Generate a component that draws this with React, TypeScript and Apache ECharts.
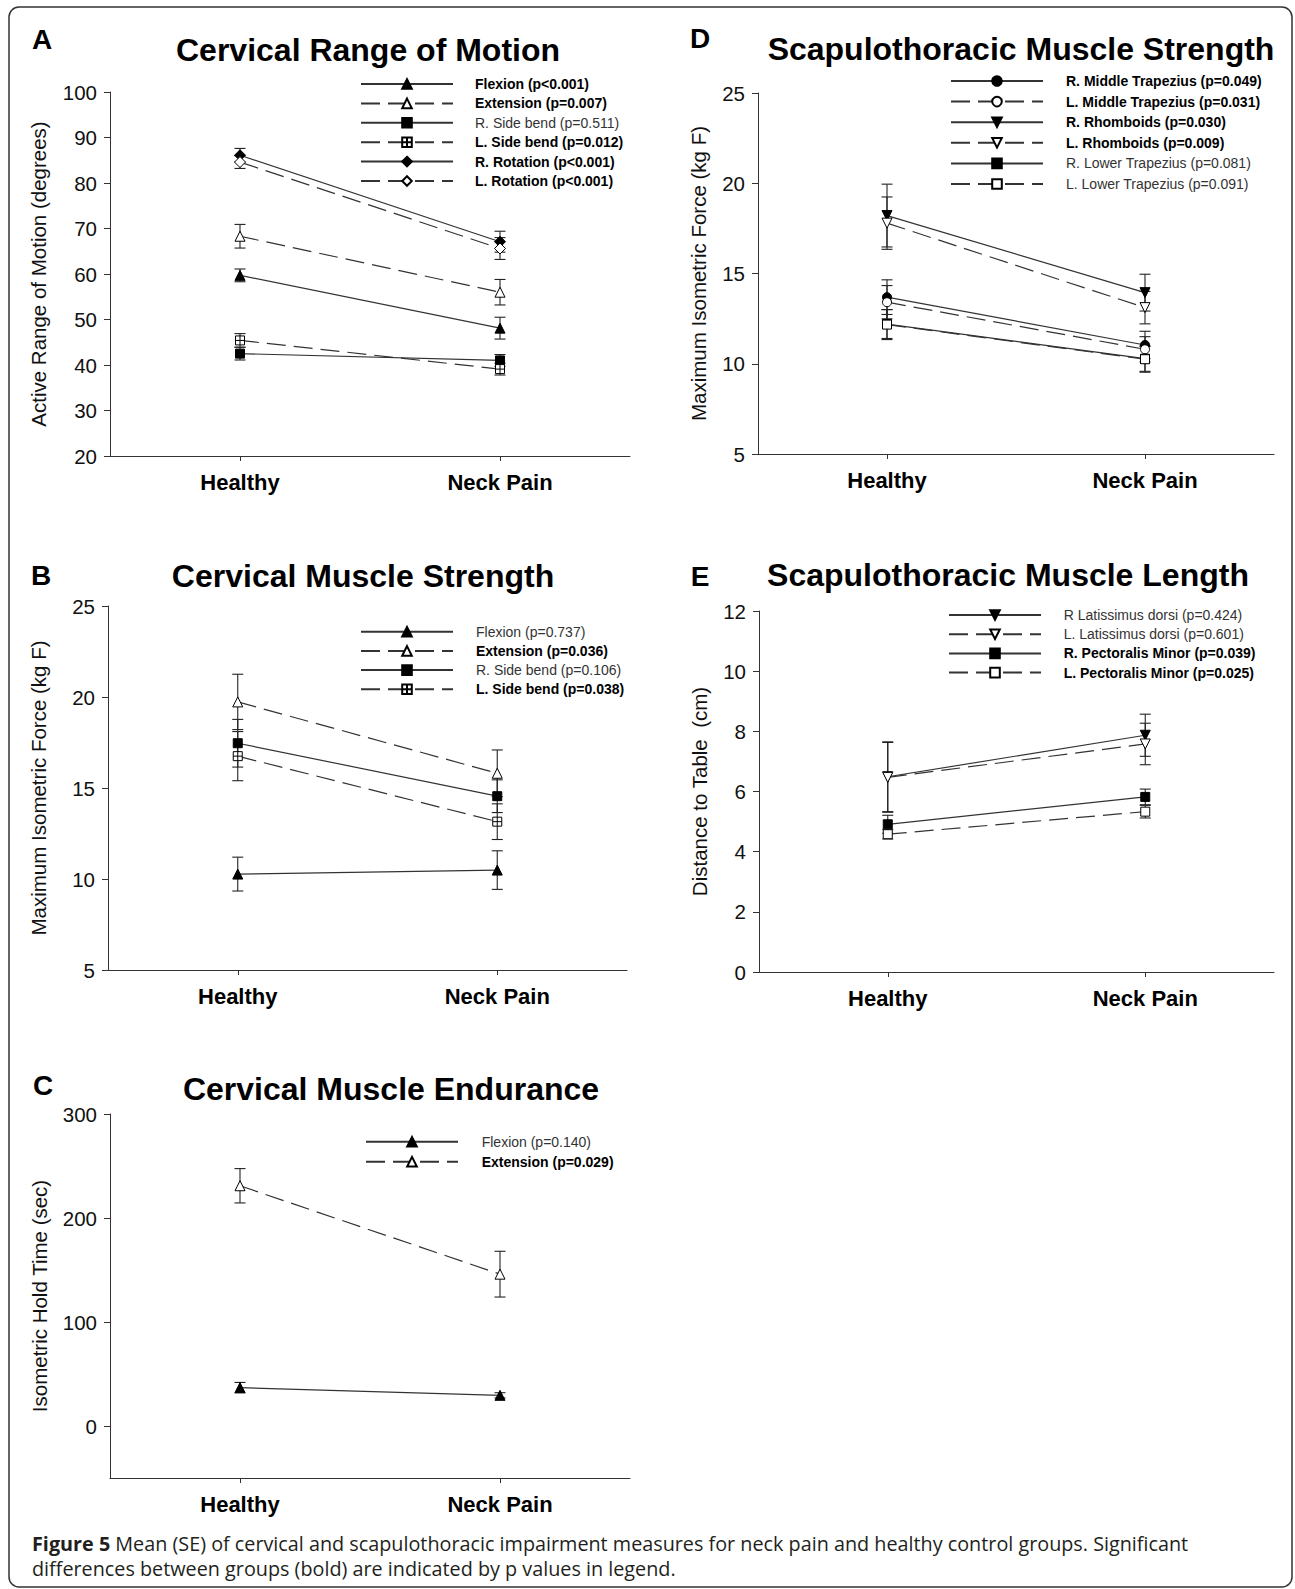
import React, { useEffect, useRef } from "react";
import * as echarts from "echarts";

// ---------- data ----------
const categories = ["Healthy", "Neck Pain"];

// Panel A: Cervical Range of Motion (degrees)
const aFlexionMean = [59.7, 48.1];
const aFlexionSE = [1.4, 2.4];
const aExtensionMean = [68.3, 56.0];
const aExtensionSE = [2.6, 2.8];
const aRSideMean = [42.5, 41.0];
const aRSideSE = [1.4, 1.3];
const aLSideMean = [45.4, 39.1];
const aLSideSE = [1.5, 1.3];
const aRRotMean = [86.1, 67.1];
const aRRotSE = [1.5, 2.3];
const aLRotMean = [84.6, 65.6];
const aLRotSE = [1.4, 2.4];

// Panel B: Cervical Muscle Strength (kg F)
const bFlexionMean = [10.27, 10.49];
const bFlexionSE = [0.93, 1.06];
const bExtensionMean = [19.73, 15.81];
const bExtensionSE = [1.52, 1.28];
const bRSideMean = [17.46, 14.55];
const bRSideSE = [1.31, 0.9];
const bLSideMean = [16.75, 13.15];
const bLSideSE = [1.35, 0.98];

// Panel C: Cervical Muscle Endurance (sec)
const cFlexionMean = [36.9, 29.5];
const cFlexionSE = [5.0, 2.5];
const cExtensionMean = [231, 146];
const cExtensionSE = [16.5, 22];

// Panel D: Scapulothoracic Muscle Strength (kg F)
const dRMidTrapMean = [13.69, 11.04];
const dRMidTrapSE = [0.96, 0.76];
const dLMidTrapMean = [13.41, 10.8];
const dLMidTrapSE = [0.92, 0.7];
const dRRhomMean = [18.21, 13.94];
const dRRhomSE = [1.74, 1.02];
const dLRhomMean = [17.79, 13.11];
const dLRhomSE = [1.45, 0.9];
const dRLowTrapMean = [12.2, 10.28];
const dRLowTrapSE = [0.8, 0.7];
const dLLowTrapMean = [12.17, 10.25];
const dLLowTrapSE = [0.83, 0.72];

// Panel E: Scapulothoracic Muscle Length (cm)
const eRLatMean = [6.49, 7.87];
const eRLatSE = [1.16, 0.7];
const eLLatMean = [6.47, 7.58];
const eLLatSE = [1.16, 0.69];
const eRPecMean = [4.91, 5.82];
const eRPecSE = [0.3, 0.26];
const eLPecMean = [4.58, 5.33];
const eLPecSE = [0.16, 0.21];

// Tick values for panel C
const cTickValues = [0, 100, 200, 300];

// ---------- styling helpers ----------
const FONT = "Liberation Sans, Arial, Helvetica, sans-serif";
const CAP_FONT = "Open Sans, Noto Sans, sans-serif";
const SYM = {
  triUp: "triangle",
  triDown: "path://M0,0L10,0L5,10Z",
  square: "rect",
  plusSquare: "path://M0,0L10,0L10,10L0,10Z M5,0L5,10 M0,5L10,5",
  diamond: "diamond",
  circle: "circle",
};

type SeriesDef = {
  name: string;
  mean: number[];
  se: number[];
  symbol: string;
  size: number;
  filled: boolean;
  dashed: boolean;
  bold: boolean;
};

type PanelDef = {
  letter: string;
  letterPos: [number, number];
  title: string;
  titlePos: [number, number];
  grid: { left: number; top: number; width: number; height: number };
  yMin: number;
  yMax: number;
  yInterval?: number;
  yCustom?: number[];
  yName: string;
  nameGap: number;
  legend: { left: number; top: number; gap: number; pad: number };
  series: SeriesDef[];
};

const panels: PanelDef[] = [
  {
    letter: "A",
    letterPos: [42, 39],
    title: "Cervical Range of Motion",
    titlePos: [368, 50],
    grid: { left: 110, top: 92, width: 520, height: 364 },
    yMin: 20,
    yMax: 100,
    yInterval: 10,
    yName: "Active Range of Motion (degrees)",
    nameGap: 61,
    legend: { left: 360, top: 77, gap: 5.4, pad: 17 },
    series: [
      { name: "Flexion (p<0.001)", mean: aFlexionMean, se: aFlexionSE, symbol: SYM.triUp, size: 10, filled: true, dashed: false, bold: true },
      { name: "Extension (p=0.007)", mean: aExtensionMean, se: aExtensionSE, symbol: SYM.triUp, size: 10, filled: false, dashed: true, bold: true },
      { name: "R. Side bend (p=0.511)", mean: aRSideMean, se: aRSideSE, symbol: SYM.square, size: 9, filled: true, dashed: false, bold: false },
      { name: "L. Side bend (p=0.012)", mean: aLSideMean, se: aLSideSE, symbol: SYM.plusSquare, size: 9, filled: false, dashed: true, bold: true },
      { name: "R. Rotation (p<0.001)", mean: aRRotMean, se: aRRotSE, symbol: SYM.diamond, size: 11, filled: true, dashed: false, bold: true },
      { name: "L. Rotation (p<0.001)", mean: aLRotMean, se: aLRotSE, symbol: SYM.diamond, size: 11, filled: false, dashed: true, bold: true },
    ],
  },
  {
    letter: "B",
    letterPos: [41, 575],
    title: "Cervical Muscle Strength",
    titlePos: [363, 576],
    grid: { left: 108, top: 606, width: 519, height: 364 },
    yMin: 5,
    yMax: 25,
    yInterval: 5,
    yName: "Maximum Isometric Force (kg F)",
    nameGap: 59,
    legend: { left: 360, top: 624.7, gap: 5.2, pad: 18 },
    series: [
      { name: "Flexion (p=0.737)", mean: bFlexionMean, se: bFlexionSE, symbol: SYM.triUp, size: 10, filled: true, dashed: false, bold: false },
      { name: "Extension (p=0.036)", mean: bExtensionMean, se: bExtensionSE, symbol: SYM.triUp, size: 10, filled: false, dashed: true, bold: true },
      { name: "R. Side bend (p=0.106)", mean: bRSideMean, se: bRSideSE, symbol: SYM.square, size: 9, filled: true, dashed: false, bold: false },
      { name: "L. Side bend (p=0.038)", mean: bLSideMean, se: bLSideSE, symbol: SYM.plusSquare, size: 9, filled: false, dashed: true, bold: true },
    ],
  },
  {
    letter: "C",
    letterPos: [43, 1085],
    title: "Cervical Muscle Endurance",
    titlePos: [391, 1089],
    grid: { left: 110, top: 1114, width: 520, height: 364 },
    yMin: -50,
    yMax: 300,
    yCustom: cTickValues,
    yName: "Isometric Hold Time (sec)",
    nameGap: 60,
    legend: { left: 365, top: 1134.7, gap: 6, pad: 18.7 },
    series: [
      { name: "Flexion (p=0.140)", mean: cFlexionMean, se: cFlexionSE, symbol: SYM.triUp, size: 10, filled: true, dashed: false, bold: false },
      { name: "Extension (p=0.029)", mean: cExtensionMean, se: cExtensionSE, symbol: SYM.triUp, size: 10, filled: false, dashed: true, bold: true },
    ],
  },
  {
    letter: "D",
    letterPos: [700, 38],
    title: "Scapulothoracic Muscle Strength",
    titlePos: [1021, 49],
    grid: { left: 758, top: 93, width: 516, height: 361 },
    yMin: 5,
    yMax: 25,
    yInterval: 5,
    yName: "Maximum Isometric Force (kg F)",
    nameGap: 49,
    legend: { left: 950, top: 74, gap: 6.6, pad: 18 },
    series: [
      { name: "R. Middle Trapezius (p=0.049)", mean: dRMidTrapMean, se: dRMidTrapSE, symbol: SYM.circle, size: 9, filled: true, dashed: false, bold: true },
      { name: "L. Middle Trapezius (p=0.031)", mean: dLMidTrapMean, se: dLMidTrapSE, symbol: SYM.circle, size: 9, filled: false, dashed: true, bold: true },
      { name: "R. Rhomboids (p=0.030)", mean: dRRhomMean, se: dRRhomSE, symbol: SYM.triDown, size: 10, filled: true, dashed: false, bold: true },
      { name: "L. Rhomboids (p=0.009)", mean: dLRhomMean, se: dLRhomSE, symbol: SYM.triDown, size: 10, filled: false, dashed: true, bold: true },
      { name: "R. Lower Trapezius (p=0.081)", mean: dRLowTrapMean, se: dRLowTrapSE, symbol: SYM.square, size: 9, filled: true, dashed: false, bold: false },
      { name: "L. Lower Trapezius (p=0.091)", mean: dLLowTrapMean, se: dLLowTrapSE, symbol: SYM.square, size: 9, filled: false, dashed: true, bold: false },
    ],
  },
  {
    letter: "E",
    letterPos: [700, 576],
    title: "Scapulothoracic Muscle Length",
    titlePos: [1008, 575],
    grid: { left: 759, top: 611, width: 515, height: 361 },
    yMin: 0,
    yMax: 12,
    yInterval: 2,
    yName: "Distance to Table  (cm)",
    nameGap: 49,
    legend: { left: 948, top: 608, gap: 5.2, pad: 17.7 },
    series: [
      { name: "R Latissimus dorsi (p=0.424)", mean: eRLatMean, se: eRLatSE, symbol: SYM.triDown, size: 10, filled: true, dashed: false, bold: false },
      { name: "L. Latissimus dorsi (p=0.601)", mean: eLLatMean, se: eLLatSE, symbol: SYM.triDown, size: 10, filled: false, dashed: true, bold: false },
      { name: "R. Pectoralis Minor (p=0.039)", mean: eRPecMean, se: eRPecSE, symbol: SYM.square, size: 9, filled: true, dashed: false, bold: true },
      { name: "L. Pectoralis Minor (p=0.025)", mean: eLPecMean, se: eLPecSE, symbol: SYM.square, size: 9, filled: false, dashed: true, bold: true },
    ],
  },
];

const LINE_COLOR = "#333";
const DASH = [19, 8];

const errRender = (params: any, api: any) => {
  const x = api.value(0);
  const lo = api.coord([x, api.value(1)]);
  const hi = api.coord([x, api.value(2)]);
  const w = 5.5;
  const st = { stroke: "#222", lineWidth: 1.1 };
  return {
    type: "group",
    children: [
      { type: "line", shape: { x1: lo[0], y1: lo[1], x2: hi[0], y2: hi[1] }, style: st },
      { type: "line", shape: { x1: lo[0] - w, y1: lo[1], x2: lo[0] + w, y2: lo[1] }, style: st },
      { type: "line", shape: { x1: hi[0] - w, y1: hi[1], x2: hi[0] + w, y2: hi[1] }, style: st },
    ],
  };
};

function buildOption() {
  const grid: any[] = [];
  const xAxis: any[] = [];
  const yAxis: any[] = [];
  const legend: any[] = [];
  const series: any[] = [];
  const graphic: any[] = [];

  graphic.push({
    type: "rect",
    silent: true,
    z: -10,
    shape: { x: 9, y: 7, width: 1283, height: 1580, r: 10 },
    style: { fill: "none", stroke: "#333", lineWidth: 1.5 },
  });

  panels.forEach((p, i) => {
    grid.push({ ...p.grid, containLabel: false });
    xAxis.push({
      type: "category",
      gridIndex: i,
      data: categories,
      boundaryGap: true,
      axisLine: { show: true, onZero: false, lineStyle: { color: LINE_COLOR, width: 1 } },
      axisTick: { show: true, alignWithLabel: true, length: 5, lineStyle: { color: LINE_COLOR } },
      axisLabel: { fontFamily: FONT, fontSize: 22, fontWeight: "bold", color: "#000", margin: 15 },
      splitLine: { show: false },
    });
    const yA: any = {
      type: "value",
      gridIndex: i,
      min: p.yMin,
      max: p.yMax,
      name: p.yName,
      nameLocation: "middle",
      nameRotate: 90,
      nameGap: p.nameGap,
      nameTextStyle: { fontFamily: FONT, fontSize: 20.5, color: "#111" },
      axisLine: { show: true, lineStyle: { color: LINE_COLOR, width: 1 } },
      axisTick: { show: true, inside: false, length: 6, lineStyle: { color: LINE_COLOR } },
      axisLabel: { fontFamily: FONT, fontSize: 20.5, color: "#111", margin: 13 },
      splitLine: { show: false },
    };
    if (p.yInterval !== undefined) yA.interval = p.yInterval;
    if (p.yCustom) {
      yA.axisLabel.customValues = p.yCustom;
      yA.axisTick.customValues = p.yCustom;
    }
    yAxis.push(yA);

    legend.push({
      orient: "vertical",
      left: p.legend.left,
      top: p.legend.top,
      padding: 0,
      itemWidth: 92,
      itemHeight: 12,
      itemGap: p.legend.gap,
      selectedMode: false,
      textStyle: { fontFamily: FONT, fontSize: 14, lineHeight: 14, color: "#222", padding: [0, 0, 0, p.legend.pad] },
      data: p.series.map((s) => ({
        name: s.name,
        textStyle: { fontWeight: s.bold ? "bold" : "normal", color: s.bold ? "#000" : "#333" },
      })),
    });

    p.series.forEach((s, k) => {
      series.push({
        type: "custom",
        name: `__se_${p.letter}_${k}`,
        xAxisIndex: i,
        yAxisIndex: i,
        silent: true,
        z: 2,
        encode: { x: 0, y: [1, 2] },
        renderItem: errRender,
        data: s.mean.map((m, j) => [j, m - s.se[j], m + s.se[j]]),
      });
    });
    p.series.forEach((s) => {
      series.push({
        type: "line",
        name: s.name,
        xAxisIndex: i,
        yAxisIndex: i,
        data: s.mean,
        symbol: s.symbol,
        symbolSize: s.size,
        showAllSymbol: true,
        silent: true,
        z: 3,
        lineStyle: { color: LINE_COLOR, width: 1.2, type: s.dashed ? DASH : "solid" },
        itemStyle: { color: s.filled ? "#000" : "#fff", borderColor: "#000", borderWidth: 1 },
        emphasis: { disabled: true },
      });
    });

    graphic.push({
      type: "text",
      x: p.letterPos[0],
      y: p.letterPos[1],
      silent: true,
      style: {
        text: p.letter,
        fontFamily: FONT,
        fontSize: 28,
        fontWeight: "bold",
        fill: "#000",
        textAlign: "center",
        textVerticalAlign: "middle",
      },
    });
    graphic.push({
      type: "text",
      x: p.titlePos[0],
      y: p.titlePos[1],
      silent: true,
      style: {
        text: p.title,
        fontFamily: FONT,
        fontSize: 32,
        fontWeight: "bold",
        fill: "#000",
        textAlign: "center",
        textVerticalAlign: "middle",
      },
    });
  });

  graphic.push({
    type: "text",
    x: 32,
    y: 1543,
    silent: true,
    style: {
      text: "{b|Figure 5} Mean (SE) of cervical and scapulothoracic impairment measures for neck pain and healthy control groups. Significant",
      fontFamily: CAP_FONT,
      fontSize: 19.8,
      fill: "#231f20",
      textAlign: "left",
      textVerticalAlign: "middle",
      rich: { b: { fontFamily: CAP_FONT, fontSize: 19.8, fontWeight: "bold", fill: "#231f20" } },
    },
  });
  graphic.push({
    type: "text",
    x: 32,
    y: 1568,
    silent: true,
    style: {
      text: "differences between groups (bold) are indicated by p values in legend.",
      fontFamily: CAP_FONT,
      fontSize: 19.8,
      fill: "#231f20",
      textAlign: "left",
      textVerticalAlign: "middle",
    },
  });

  return {
    animation: false,
    backgroundColor: "#fff",
    grid,
    xAxis,
    yAxis,
    legend,
    series,
    graphic,
  };
}

export default function App() {
  const ref = useRef<HTMLDivElement>(null);
  useEffect(() => {
    if (!ref.current) return;
    const chart = echarts.init(ref.current, undefined, { renderer: "svg" });
    chart.setOption(buildOption() as any);
    return () => chart.dispose();
  }, []);
  return (
    <div
      ref={ref}
      style={{ position: "absolute", left: 0, top: 0, width: 1295, height: 1589, background: "#fff" }}
    />
  );
}
